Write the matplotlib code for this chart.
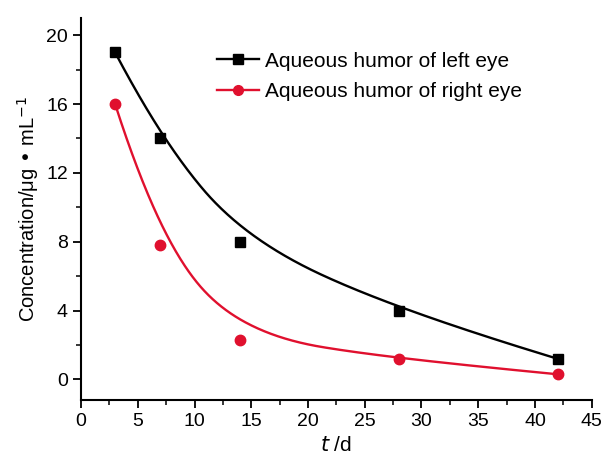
import numpy as np
import matplotlib
matplotlib.use("Agg")
import matplotlib.pyplot as plt
from matplotlib.ticker import MultipleLocator

plt.rcParams['font.family'] = ['Liberation Sans', 'DejaVu Sans']

days = [3, 7, 14, 28, 42]
left_eye = [19.0, 14.0, 8.0, 4.0, 1.2]
right_eye = [16.0, 7.8, 2.3, 1.2, 0.3]
labels = ["Aqueous humor of left eye", "Aqueous humor of right eye"]


def bspline(px, py, degree, u):
    """Clamped uniform B-spline with the data points as control points."""
    P = np.column_stack([px, py]).astype(float)
    m = len(P)
    inner = np.linspace(0, 1, m - degree + 1)
    knots = np.concatenate([np.zeros(degree), inner, np.ones(degree)])

    def basis(i, k, u):
        if k == 0:
            return ((knots[i] <= u) & (u < knots[i + 1])).astype(float)
        out = np.zeros_like(u)
        d1 = knots[i + k] - knots[i]
        d2 = knots[i + k + 1] - knots[i + 1]
        if d1 > 0:
            out += (u - knots[i]) / d1 * basis(i, k - 1, u)
        if d2 > 0:
            out += (knots[i + k + 1] - u) / d2 * basis(i + 1, k - 1, u)
        return out

    N = np.column_stack([basis(i, degree, u) for i in range(m)])
    return N @ P


def smooth_curve(px, py, w=0.6, n=400):
    u = np.linspace(0, 1, n)
    u[-1] = 1 - 1e-12
    C = (1 - w) * bspline(px, py, 3, u) + w * bspline(px, py, 2, u)
    return C[:, 0], C[:, 1]


fig = plt.figure(figsize=(6.05, 4.62), dpi=100)
ax = fig.add_axes([0.134, 0.134, 0.844, 0.827])

for y, c, m, lab in [(left_eye, 'black', 's', labels[0]), (right_eye, '#e0102e', 'o', labels[1])]:
    cx, cy = smooth_curve(days, y)
    ax.plot(cx, cy, color=c, lw=1.7)
    ax.plot(days, y, ls='none', marker=m, color=c, ms=7.5, zorder=3)
    ax.plot([], [], color=c, lw=1.7, marker=m, ms=7, label=lab)

ax.set_xlim(0, 45)
ax.set_ylim(-1.2, 21)
ax.xaxis.set_major_locator(MultipleLocator(5))
ax.xaxis.set_minor_locator(MultipleLocator(2.5))
ax.yaxis.set_major_locator(MultipleLocator(4))
ax.yaxis.set_minor_locator(MultipleLocator(2))
for s in ['top', 'right']:
    ax.spines[s].set_visible(False)
for s in ['left', 'bottom']:
    ax.spines[s].set_linewidth(1.5)
ax.tick_params(which='major', direction='out', length=6, width=1.3, labelsize=14)
ax.tick_params(which='minor', direction='out', length=3.5, width=1.1)

ax.set_ylabel("Concentration/μg • mL$^{-1}$", fontsize=14.5)
ax.set_xlabel("$\\it{t}$ /d", fontsize=15)

ax.legend(loc='upper left', bbox_to_anchor=(0.25, 0.934), frameon=False, fontsize=15,
          handlelength=2.0, handletextpad=0.3, labelspacing=0.54, borderaxespad=0)

fig.savefig("out.png", dpi=100)
